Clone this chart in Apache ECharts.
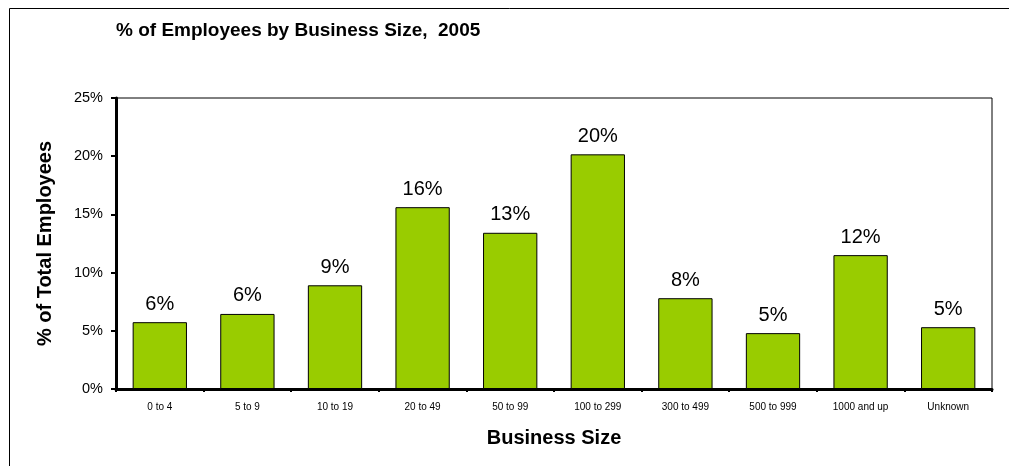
<!DOCTYPE html>
<html><head><meta charset="utf-8">
<script src="https://cdn.jsdelivr.net/npm/echarts@6/dist/echarts.min.js"></script>
<style>html,body{margin:0;padding:0;background:#fff}#c{width:1009px;height:466px}</style>
</head><body><div id="c"></div>
<script>
const categories = ['0 to 4','5 to 9','10 to 19','20 to 49','50 to 99','100 to 299','300 to 499','500 to 999','1000 and up','Unknown'];
const values = [5.74, 6.45, 8.91, 15.62, 13.42, 20.16, 7.8, 4.8, 11.5, 5.31];
const yTicks = [0, 5, 10, 15, 20, 25];
const titleText = '% of Employees by Business Size,  2005';
const xName = 'Business Size';
const yName = '% of Total Employees';

const chart = echarts.init(document.getElementById('c'), null, {renderer:'canvas'});
const FF = '"Liberation Sans", Arial, sans-serif';
chart.setOption({
  animation: false,
  backgroundColor: '#fff',
  graphic: [{
    type: 'rect', shape: {x: 9.5, y: 8.5, width: 1020, height: 480},
    style: {fill: 'none', stroke: '#000', lineWidth: 1}, silent: true, z: -1
  }],
  title: {
    text: titleText, left: 111, top: 16,
    textStyle: {fontFamily: FF, fontSize: 19, fontWeight: 'bold', color: '#000'}
  },
  grid: {left: 116, top: 98, right: 17, bottom: 77, show: true, borderColor: '#000', borderWidth: 1, backgroundColor: '#fff'},
  xAxis: {
    type: 'category', data: categories,
    name: xName, nameLocation: 'middle', nameGap: 39,
    nameTextStyle: {fontFamily: FF, fontSize: 20, fontWeight: 'bold', color: '#000'},
    axisLine: {lineStyle: {color: '#000', width: 3}},
    axisTick: {show: true, alignWithLabel: false, length: 3, lineStyle: {color: '#000', width: 2}},
    axisLabel: {fontFamily: FF, fontSize: 10, color: '#000', margin: 13, interval: 0}
  },
  yAxis: {
    type: 'value', min: yTicks[0], max: yTicks[yTicks.length-1], interval: 5,
    name: yName, nameLocation: 'middle', nameGap: 61, nameRotate: 90,
    nameTextStyle: {fontFamily: FF, fontSize: 20, fontWeight: 'bold', color: '#000'},
    axisLine: {show: true, lineStyle: {color: '#000', width: 3}},
    axisTick: {show: true, length: 5, lineStyle: {color: '#000', width: 2}},
    splitLine: {show: false},
    axisLabel: {fontFamily: FF, fontSize: 14.5, color: '#000', margin: 13, formatter: v => v + '%'}
  },
  series: [{
    type: 'bar', data: values, barWidth: '62%',
    itemStyle: {color: '#99CC00', borderColor: '#000', borderWidth: 1},
    label: {show: true, position: 'top', distance: 8, fontFamily: FF, fontSize: 20, color: '#000',
      formatter: p => Math.round(p.value) + '%'}
  }]
});
</script></body></html>
